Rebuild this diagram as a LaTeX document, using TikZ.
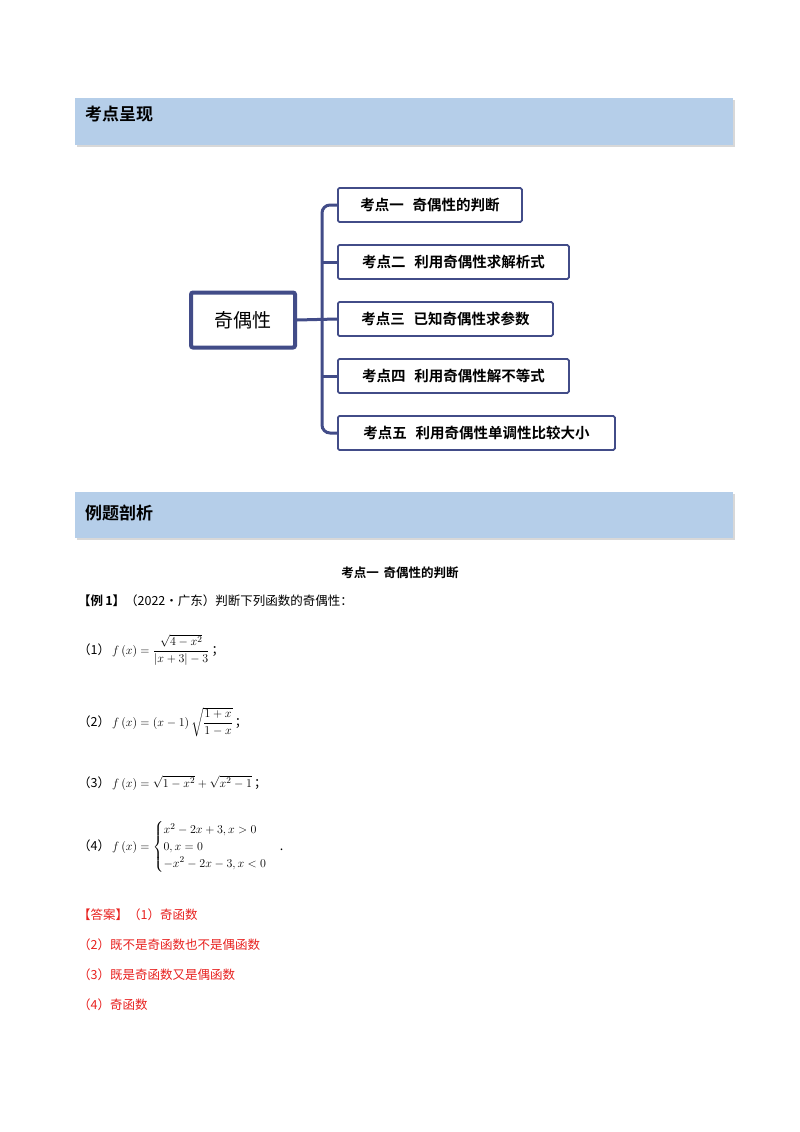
\documentclass[tikz,border=0pt]{standalone}
\usepackage{amsmath}
\usepackage{fontspec}
\newfontfamily\cjk{Noto Sans CJK SC}
\newfontfamily\cjkb{Noto Sans CJK SC Bold}
\usetikzlibrary{shadows}
\definecolor{barblue}{HTML}{B5CEE9}
\definecolor{navy}{HTML}{424C88}
\definecolor{ansred}{HTML}{E8211F}
\begin{document}
\begin{tikzpicture}[x=1pt,y=-1pt,
  bar/.style={fill=barblue,draw=none,drop shadow={shadow xshift=2pt,shadow yshift=-2pt,opacity=0.3}},
  kid/.style={draw=navy,line width=1.8pt,rounded corners=1.5pt,fill=white,anchor=west,minimum height=34pt,inner xsep=14pt,font=\fontsize{14.5}{16}\selectfont\cjkb},
  spine/.style={draw=navy,line width=3pt,rounded corners=8pt},
  txt/.style={anchor=west,inner sep=0pt,font=\fontsize{12.5}{14}\selectfont\cjk},
  ans/.style={txt,text=ansred}]
\useasboundingbox (0,0) rectangle (800,1132);
\fill[white] (0,0) rectangle (800,1132);
\path[bar] (75,98) rectangle (733,145);
\node[txt,font=\fontsize{17}{19}\selectfont\cjkb] (h1) at (85,114) {考点呈现};
\path[bar] (75,492) rectangle (733,538);
\node[txt,font=\fontsize{17}{19}\selectfont\cjkb] (h2) at (85,513) {例题剖析};
% mindmap
\node[draw=navy,line width=4pt,rounded corners=2pt,minimum width=104pt,minimum height=55pt,font=\fontsize{19}{21}\selectfont\cjk] (root) at (243,320) {奇偶性};
\node[kid,minimum width=184pt] (k1) at (337,205) {考点一\hspace{0.6em}奇偶性的判断};
\node[kid,minimum width=231pt] (k2) at (337,262) {考点二\hspace{0.6em}利用奇偶性求解析式};
\node[kid,minimum width=215pt] (k3) at (337,319) {考点三\hspace{0.6em}已知奇偶性求参数};
\node[kid,minimum width=231pt] (k4) at (337,376) {考点四\hspace{0.6em}利用奇偶性解不等式};
\node[kid,minimum width=277pt] (k5) at (337,433) {考点五\hspace{0.6em}利用奇偶性单调性比较大小};
\coordinate (sp) at (322,320);
\draw[spine] (root.east) -- (k3.west);
\draw[spine] (k1.west) -- (sp|-k1.west) -- (sp|-k5.west) -- (k5.west);
\draw[spine] (k2.west) -- (sp|-k2.west);
\draw[spine] (k4.west) -- (sp|-k4.west);
% text
\node[txt,anchor=center,font=\fontsize{12.5}{14}\selectfont\cjkb] (t0) at (400,573) {考点一\hspace{0.4em}奇偶性的判断};
\node[txt] (t1) at (78,601) {{\cjkb【例\,1】}（2022·广东）判断下列函数的奇偶性：};
\node[txt] (q1) at (78,650) {（1）\,$f\left(x\right)=\dfrac{\sqrt{4-x^2}}{\left|x+3\right|-3}$\,；};
\node[txt] (q2) at (78,722) {（2）\,$f\left(x\right)=\left(x-1\right)\sqrt{\dfrac{1+x}{1-x}}$\,；};
\node[txt] (q3) at (78,783) {（3）\,$f\left(x\right)=\sqrt{1-x^2}+\sqrt{x^2-1}$\,；};
\node[txt] (q4) at (78,847) {（4）\,$f\left(x\right)=\begin{cases}x^2-2x+3,x>0\\0,x=0\\-x^2-2x-3,x<0\end{cases}$.};
\node[ans] (a1) at (78,915) {【答案】（1）奇函数};
\node[ans] (a2) at (78,945) {（2）既不是奇函数也不是偶函数};
\node[ans] (a3) at (78,975) {（3）既是奇函数又是偶函数};
\node[ans] (a4) at (78,1005) {（4）奇函数};
\end{tikzpicture}
\end{document}
